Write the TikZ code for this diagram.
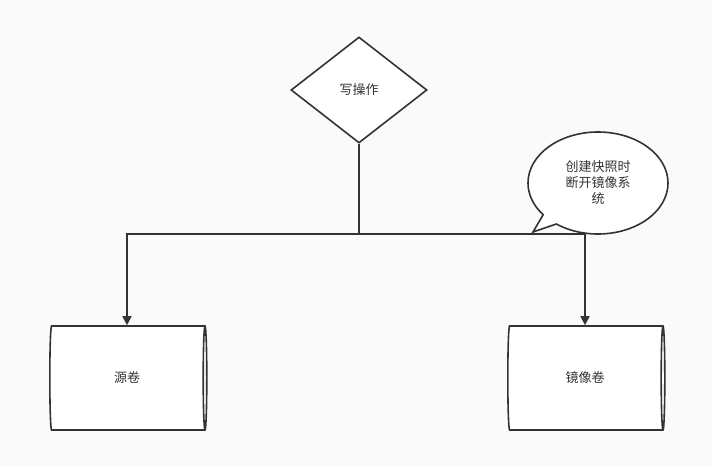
\documentclass[tikz,border=0pt]{standalone}
\usepackage{fontspec}
\setmainfont{Noto Sans CJK SC}
\definecolor{LineColor}{RGB}{51,51,51}
\definecolor{BgColor}{RGB}{250,250,250}
\usetikzlibrary{positioning, shapes.geometric, shapes.callouts, arrows.meta}

\begin{document}
\begin{tikzpicture}[
    x=1pt, y=-1pt,
    base/.style={draw=LineColor, line width=1.6pt, fill=white, font=\fontsize{13}{16}\selectfont, text=LineColor},
    decision/.style={base, diamond, minimum width=136pt, minimum height=106pt, inner sep=0pt},
    volume/.style={base, cylinder, shape aspect=0.3, minimum width=104pt, minimum height=157pt, inner sep=0pt},
    arrow/.style={-{Triangle[length=9pt, width=9pt]}, line width=1.6pt, draw=LineColor},
    wire/.style={line width=1.6pt, draw=LineColor},
]
\fill[BgColor] (0,0) rectangle (712,466);

% nodes
\node[decision] (write) at (359,90) {写操作};
\node[volume] (src) at (127,378) {源卷};
\node[volume] (mirror) at (585,378) {镜像卷};

\coordinate (split) at (359,234);
\coordinate (tip) at (533,232);
\node[base, ellipse callout, callout absolute pointer={(tip)}, minimum width=140pt, minimum height=102pt, align=center, inner sep=0pt] (note) at (598,183) {创建快照时\\断开镜像系\\统};

% connectors
\draw[wire] (write.south) -- (split);
\draw[arrow] (split) -| (src.north);
\draw[arrow] (split) -| (mirror.north);
\end{tikzpicture}
\end{document}
